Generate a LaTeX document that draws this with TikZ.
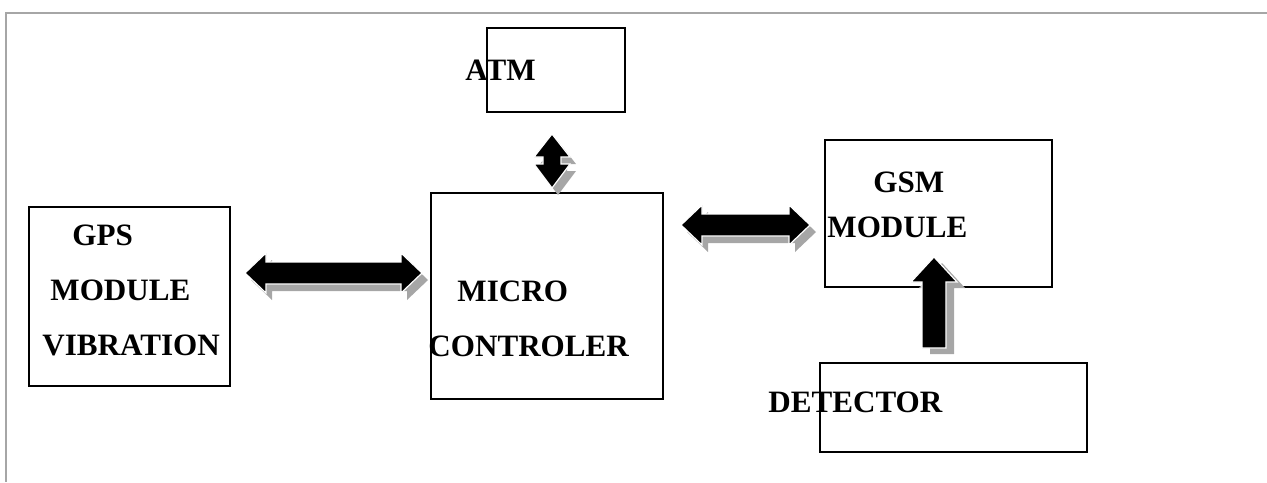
\documentclass[tikz,border=0pt]{standalone}
\usepackage{fontspec}
\setmainfont{Liberation Serif}
\usetikzlibrary{fit}
\tikzset{
  box/.style={draw=black, line width=1.35pt, inner sep=0pt},
  lbl/.style={anchor=base west, inner sep=0pt, font=\fontsize{15.55}{18}\selectfont\bfseries},
  shadowc/.style={fill=black!35},
  arrowc/.style={fill=black, draw=white, line width=0.6pt, line join=miter},
  frame/.style={draw=black!35, line width=1.2pt}
}
% horizontal double arrow: x1 x2 y
\newcommand\HPath[3]{(#1,#3) -- ({#1+21},{#3-20}) -- ({#1+21},{#3-11}) -- ({#2-21},{#3-11}) -- ({#2-21},{#3-20}) -- (#2,#3) -- ({#2-21},{#3+20}) -- ({#2-21},{#3+11}) -- ({#1+21},{#3+11}) -- ({#1+21},{#3+20}) -- cycle}
\newcommand\HArr[3]{%
  \fill[shadowc, shift={(6,7)}] \HPath{#1}{#2}{#3};
  \filldraw[arrowc] \HPath{#1}{#2}{#3};}
\newcommand\VPathA{(552,134) -- (570,157) -- (561,157) -- (561,164) -- (570,164) -- (552,188) -- (534,164) -- (543,164) -- (543,157) -- (534,157) -- cycle}
\newcommand\VPathB{(934,257) -- (957,282) -- (946,282) -- (946,348) -- (922,348) -- (922,282) -- (911,282) -- cycle}
\begin{document}
\begin{tikzpicture}[x=0.5pt, y=-0.5pt]
\useasboundingbox (0,0) rectangle (1267,482);
\draw[frame] (1267,13) -- (6,13) -- (6,482);

% boxes
\path (29,207) coordinate (gpsA) (230,386) coordinate (gpsB);
\node[box, fit=(gpsA)(gpsB)] (gps) {};
\path (431,193) coordinate (mcA) (663,399) coordinate (mcB);
\node[box, fit=(mcA)(mcB)] (mc) {};
\path (487,28) coordinate (atmA) (625,112) coordinate (atmB);
\node[box, fit=(atmA)(atmB)] (atm) {};
\path (825,140) coordinate (gsmA) (1052,287) coordinate (gsmB);
\node[box, fit=(gsmA)(gsmB)] (gsm) {};
\path (820,363) coordinate (detA) (1087,452) coordinate (detB);
\node[box, fit=(detA)(detB)] (det) {};

% arrows
\HArr{245}{422}{273}
\HArr{681}{810}{225}
\fill[shadowc, shift={(6,7)}] \VPathA;
\filldraw[arrowc] \VPathA;
\fill[shadowc, shift={(8,6)}] \VPathB;
\filldraw[arrowc] \VPathB;

% labels
\node[lbl] (t1) at (72,245) {GPS};
\node[lbl] (t2) at (50,300) {MODULE};
\node[lbl] (t3) at (42,355) {VIBRATION};
\node[lbl] (t4) at (457,301) {MICRO};
\node[lbl] (t5) at (428,356) {CONTROLER};
\node[lbl] (t6) at (465,80) {ATM};
\node[lbl] (t7) at (873,192) {GSM};
\node[lbl] (t8) at (827,237) {MODULE};
\node[lbl] (t9) at (768,412) {DETECTOR};
\end{tikzpicture}
\end{document}
